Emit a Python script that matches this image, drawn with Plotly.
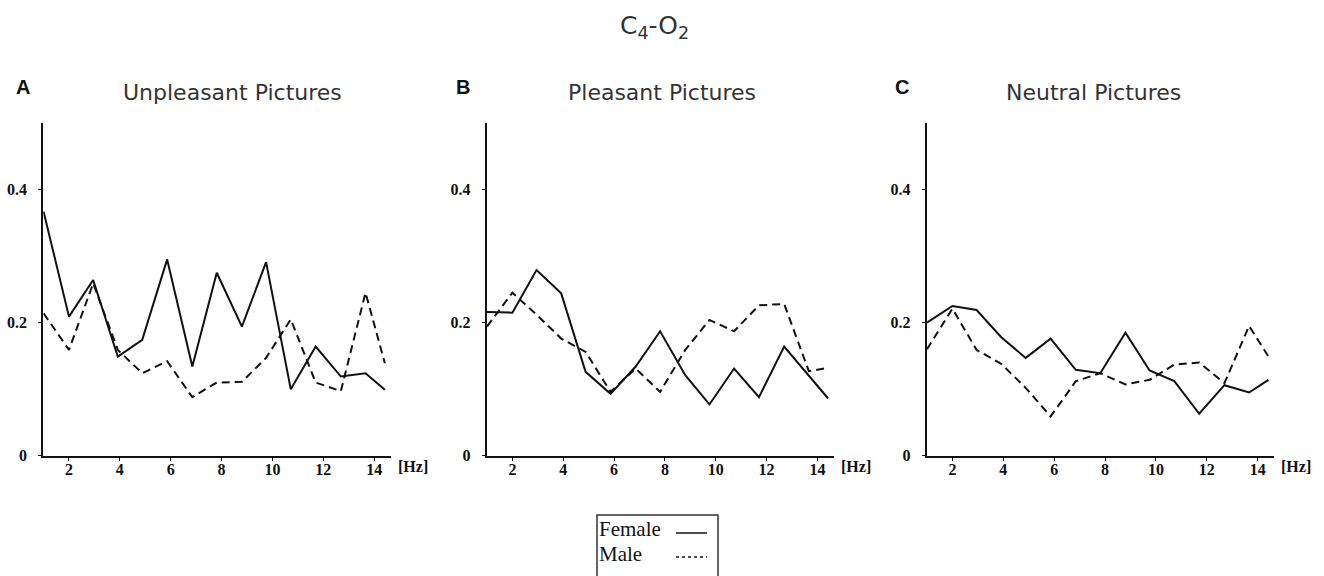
import plotly.graph_objects as go

W, H = 1324, 576
FIG_H = 585  # rendered height; the capture is compressed vertically to 576

freq = [1.0, 2.0, 2.95, 3.92, 4.88, 5.86, 6.85, 7.81, 8.8, 9.75, 10.72, 11.7, 12.69, 13.66, 14.42]

female_unpleasant = [0.367, 0.209, 0.264, 0.149, 0.174, 0.295, 0.134, 0.275, 0.194, 0.291, 0.100, 0.164, 0.119, 0.124, 0.099]
male_unpleasant = [0.214, 0.159, 0.259, 0.159, 0.124, 0.142, 0.088, 0.110, 0.111, 0.147, 0.205, 0.110, 0.097, 0.245, 0.139]

female_pleasant = [0.216, 0.215, 0.279, 0.244, 0.126, 0.093, 0.134, 0.187, 0.121, 0.077, 0.131, 0.088, 0.164, 0.121, 0.086]
male_pleasant = [0.194, 0.245, 0.212, 0.176, 0.156, 0.096, 0.131, 0.096, 0.159, 0.204, 0.187, 0.226, 0.228, 0.127, 0.132]

female_neutral = [0.200, 0.225, 0.219, 0.178, 0.147, 0.176, 0.129, 0.124, 0.185, 0.128, 0.112, 0.063, 0.106, 0.095, 0.114]
male_neutral = [0.160, 0.221, 0.159, 0.138, 0.102, 0.059, 0.112, 0.124, 0.107, 0.114, 0.137, 0.140, 0.109, 0.195, 0.149]

panel_titles = ["Unpleasant Pictures", "Pleasant Pictures", "Neutral Pictures"]
panel_letters = ["A", "B", "C"]
x_ticks = [2, 4, 6, 8, 10, 12, 14]
y_ticks = [0, 0.2, 0.4]
y_tick_labels = ["0", "0.2", "0.4"]

female = [female_unpleasant, female_pleasant, female_neutral]
male = [male_unpleasant, male_pleasant, male_neutral]

# pixel layout of each panel (left, right)
panel_px = [(43.3, 390.7), (486.7, 834.0), (926.7, 1274.3)]
title_cx = [232.5, 661.5, 1093]
letter_cx = [22.7, 462.5, 901.5]
y_top_px, y_bot_px = 123.0, 455.7

fig = go.Figure()
serif = "Liberation Serif"
sans = "DejaVu Sans"
bold_sans = "Liberation Sans"


def px(xp, yp):
    return xp / W, 1 - yp / H


def note(xp, yp, text, font, xanchor="center", yanchor="middle", height=None):
    x, y = px(xp, yp)
    kw = {} if height is None else dict(height=height, borderpad=0)
    fig.add_annotation(x=x, y=y, xref="paper", yref="paper", text=text,
                       showarrow=False, xanchor=xanchor, yanchor=yanchor, font=font, **kw)


tick_font = dict(family=serif, size=16, color="#111", weight="bold")

for i in range(3):
    ax = "" if i == 0 else str(i + 1)
    fig.add_trace(go.Scatter(x=freq, y=female[i], mode="lines",
                             line=dict(color="#111", width=2),
                             xaxis="x" + ax, yaxis="y" + ax, showlegend=False))
    fig.add_trace(go.Scatter(x=freq, y=male[i], mode="lines",
                             line=dict(color="#111", width=2, dash="8px,5px"),
                             xaxis="x" + ax, yaxis="y" + ax, showlegend=False))
    l, r = panel_px[i]
    xd = [l / W, r / W]
    yd = [1 - y_bot_px / H, 1 - y_top_px / H]
    fig.layout["xaxis" + ax] = dict(
        domain=xd, range=[0.99, 14.65], showline=True, linecolor="#111", linewidth=2,
        tickvals=x_ticks, ticks="outside", ticklen=3, tickcolor="#111",
        tickfont=tick_font, ticklabelstandoff=-5, showgrid=False, zeroline=False,
        anchor="y" + ax, fixedrange=True)
    fig.layout["yaxis" + ax] = dict(
        domain=yd, range=[0, 0.5], showline=True, linecolor="#111", linewidth=2,
        tickvals=y_ticks, ticktext=y_tick_labels, ticks="outside", ticklen=3,
        tickcolor="#111", tickfont=tick_font, ticklabelstandoff=8,
        showgrid=False, zeroline=False, anchor="x" + ax, fixedrange=True)
    note(title_cx[i], 92, panel_titles[i], dict(family=sans, size=22, color="#333"))
    note(letter_cx[i], 87, panel_letters[i],
         dict(family=bold_sans, size=20, color="#111", weight="bold"))
    note(r + 22, 466, "[Hz]", tick_font)

note(654.5, 27, "C<sub>4</sub>-O<sub>2</sub>", dict(family=sans, size=25, color="#333"))

# legend box
x0, y1 = px(597, 515)
x1, y0 = px(718, 600)
fig.add_shape(type="rect", xref="paper", yref="paper", x0=x0, x1=x1, y0=y0, y1=y1,
              line=dict(color="#333", width=1.5), fillcolor="white")
note(598, 541, "Female", dict(family=serif, size=21, color="#111"),
     xanchor="left", yanchor="bottom", height=22)
note(598, 541.5, "Male", dict(family=serif, size=21, color="#111"),
     xanchor="left", yanchor="top", height=22)
lx0, ly = px(676, 533)
lx1, _ = px(707, 533)
fig.add_shape(type="line", xref="paper", yref="paper", x0=lx0, x1=lx1, y0=ly, y1=ly,
              line=dict(color="#111", width=1.5))
_, ly2 = px(676, 557)
fig.add_shape(type="line", xref="paper", yref="paper", x0=lx0, x1=lx1, y0=ly2, y1=ly2,
              line=dict(color="#111", width=1.5, dash="dot"))

fig.update_layout(width=W, height=FIG_H, margin=dict(l=0, r=0, t=0, b=0),
                  paper_bgcolor="white", plot_bgcolor="white", showlegend=False)

post = (
    "document.documentElement.style.margin='0';"
    "document.documentElement.style.overflow='hidden';"
    "document.body.style.margin='0';"
    "document.body.style.overflow='hidden';"
)

fig.write_html("out.html", post_script=post, config={"displayModeBar": False})
